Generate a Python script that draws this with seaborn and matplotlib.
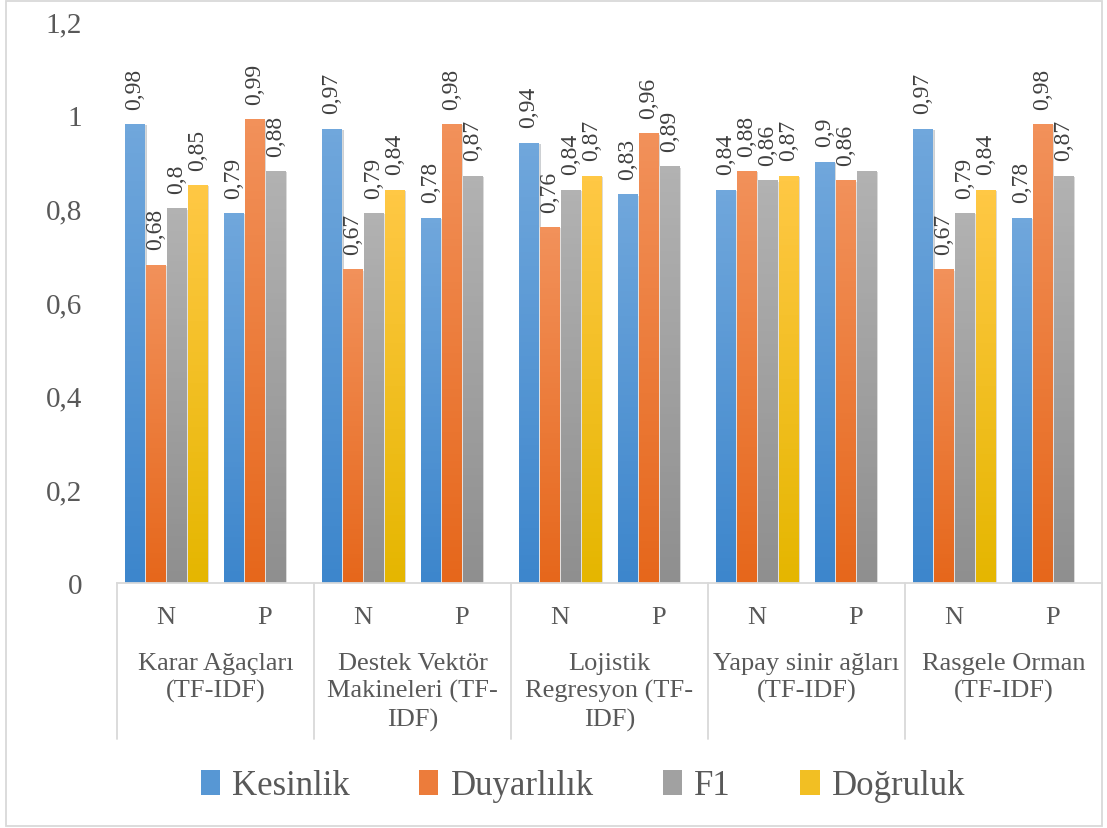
import numpy as np
import pandas as pd
import matplotlib
matplotlib.use("Agg")
import matplotlib.pyplot as plt
import matplotlib.patches as mpatches
import matplotlib.patheffects as pe
import seaborn as sns

# --- Data ---
models = ["Karar Ağaçları\n(TF-IDF)", "Destek Vektör\nMakineleri (TF-\nIDF)",
          "Lojistik\nRegresyon (TF-\nIDF)", "Yapay sinir ağları\n(TF-IDF)", "Rasgele Orman\n(TF-IDF)"]
classes = ["N", "P"]
metrics = ["Kesinlik", "Duyarlılık", "F1", "Doğruluk"]

kesinlik = [0.98, 0.79, 0.97, 0.78, 0.94, 0.83, 0.84, 0.90, 0.97, 0.78]
duyarlilik = [0.68, 0.99, 0.67, 0.98, 0.76, 0.96, 0.88, 0.86, 0.67, 0.98]
f1 = [0.80, 0.88, 0.79, 0.87, 0.84, 0.89, 0.86, 0.88, 0.79, 0.87]
dogruluk = [0.85, np.nan, 0.84, np.nan, 0.87, np.nan, 0.87, np.nan, 0.84, np.nan]
hidden_labels = {("F1", 7)}  # no data label on this bar in the original

# long table for seaborn
cat_keys = [f"{m}|{c}" for m in range(len(models)) for c in classes]
rows = []
for name, vals in zip(metrics, [kesinlik, duyarlilik, f1, dogruluk]):
    for key, v in zip(cat_keys, vals):
        rows.append({"cat": key, "metric": name, "value": v})
df = pd.DataFrame(rows)

# gradient colours (top, bottom) like Excel fill
GRAD = {
    "Kesinlik": ("#70a7dc", "#3d86cc"),
    "Duyarlılık": ("#f2915a", "#e6671b"),
    "F1": ("#b2b2b2", "#8f8f8f"),
    "Doğruluk": ("#ffc845", "#e5b600"),
}
MID = {k: tuple((np.array(matplotlib.colors.to_rgb(a)) + np.array(matplotlib.colors.to_rgb(b))) / 2)
       for k, (a, b) in GRAD.items()}

sns.set_theme(style="white")
plt.rcParams["font.family"] = ["Liberation Serif", "DejaVu Serif"]
TXT = "#595959"

fig = plt.figure(figsize=(11.07, 8.29), dpi=100)
ax = fig.add_axes([117 / 1107, 1 - 584 / 829, (1102 - 117) / 1107, (584 - 22) / 829])

sns.barplot(data=df, x="cat", y="value", hue="metric", order=cat_keys, hue_order=metrics,
            palette=MID, width=0.85, gap=0.08, ax=ax, legend=False, errorbar=None)

# gradient fill, shadow and data labels
for metric, cont in zip(metrics, ax.containers):
    top, bot = GRAD[metric]
    grad = np.linspace(matplotlib.colors.to_rgb(top), matplotlib.colors.to_rgb(bot), 64)[:, None, :]
    for bar in cont:
        h = bar.get_height()
        if not np.isfinite(h) or h <= 0:
            continue
        x0 = bar.get_x()
        w = bar.get_width()
        bar.set_path_effects([pe.SimplePatchShadow(offset=(1.5, -1), alpha=0.22), pe.Normal()])
        im = ax.imshow(grad, extent=(x0, x0 + w, 0, h), aspect="auto", zorder=bar.get_zorder() + 0.1)
        im.set_clip_path(bar)
        idx = int(round(x0 + w / 2))
        if (metric, idx) in hidden_labels:
            continue
        txt = f"{h:.2f}".rstrip("0").replace(".", ",")
        ax.annotate(txt, (x0 + w / 2, h), xytext=(0, 11), textcoords="offset points",
                    rotation=90, ha="center", va="bottom", fontsize=17, color="#404040")

ax.set_xlim(-0.5, len(cat_keys) - 0.5)
ax.set_ylim(0, 1.2)

# y axis
ax.set_yticks(np.arange(0, 1.21, 0.2))
ax.set_yticklabels(["0", "0,2", "0,4", "0,6", "0,8", "1", "1,2"])
ax.tick_params(axis="y", length=0, pad=25, labelsize=21, labelcolor=TXT)
ax.set_xlabel("")
ax.set_ylabel("")

# multi-level category axis
ax.set_xticks([])
for s in ["top", "right", "left"]:
    ax.spines[s].set_visible(False)
ax.spines["bottom"].set_color("#d9d9d9")
ax.spines["bottom"].set_linewidth(1.3)
xtr = ax.get_xaxis_transform()
axh = 584 - 22
for i in range(len(cat_keys)):
    ax.text(i, -34 / axh, classes[i % 2], transform=xtr, ha="center", va="center",
            fontsize=19, color=TXT)
for m, name in enumerate(models):
    ax.text(2 * m + 0.5, -69 / axh, name, transform=xtr, ha="center", va="top",
            fontsize=19, color=TXT, linespacing=1.3)
for b in np.arange(-0.5, len(cat_keys), 2):
    ax.plot([b, b], [0, -156 / axh], transform=xtr, color="#d9d9d9", lw=1.3, clip_on=False)

# legend
handles = [mpatches.Patch(facecolor=MID[m], edgecolor="none", label=m) for m in metrics]
fig.legend(handles=handles, loc="center", bbox_to_anchor=(583 / 1107, 1 - 787 / 829), ncol=4,
           frameon=False, fontsize=25, handlelength=0.55, handleheight=0.75, handletextpad=0.35,
           columnspacing=2.0, labelcolor=TXT)

# chart border
fig.add_artist(mpatches.Rectangle((6 / 1107, 2 / 829), 1096 / 1107, 825 / 829, transform=fig.transFigure,
                                  fill=False, edgecolor="#d9d9d9", lw=1.3))

fig.savefig("out.png", dpi=100)
